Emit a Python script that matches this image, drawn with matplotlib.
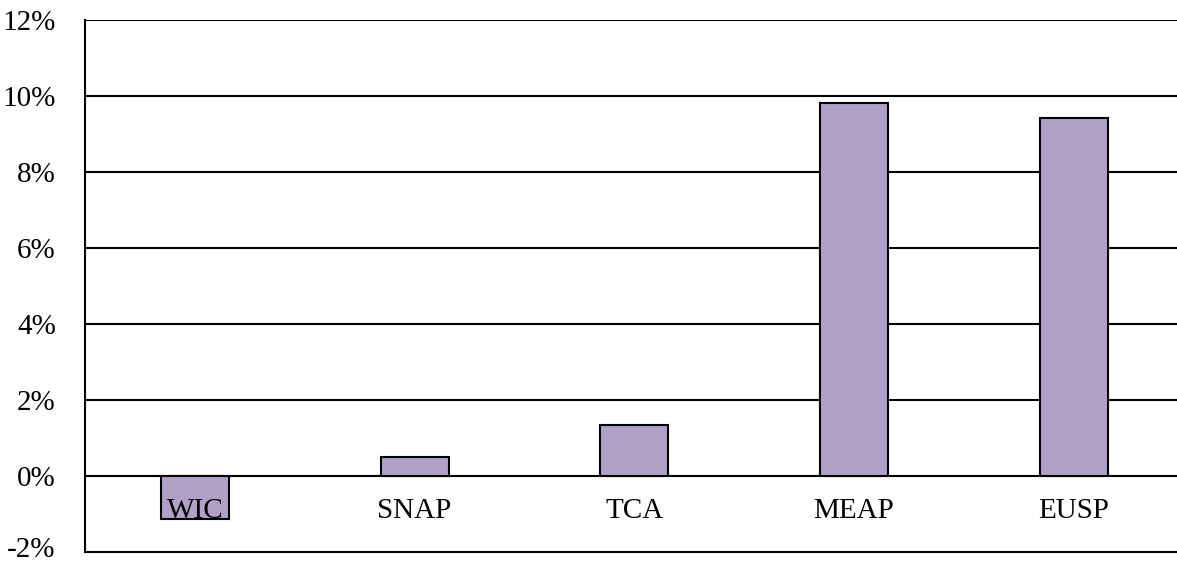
import matplotlib
matplotlib.use('Agg')
import matplotlib.pyplot as plt
import matplotlib.transforms as mtransforms
from matplotlib.ticker import FuncFormatter

plt.rcParams['font.family'] = ['Liberation Serif', 'DejaVu Serif']

# data
programs = ['WIC', 'SNAP', 'TCA', 'MEAP', 'EUSP']
values = [-1.12, 0.5, 1.33, 9.81, 9.42]
yticks = [-2, 0, 2, 4, 6, 8, 10, 12]

fig = plt.figure(figsize=(11.77, 5.65), dpi=100)
ax = fig.add_axes([85 / 1177, 1 - 552 / 565, 1 - 85 / 1177, (552 - 20) / 565])

x = range(len(programs))
ax.bar(x, values, width=0.31, color='#B1A0C7', edgecolor='black', linewidth=1.5, zorder=3)

ax.set_ylim(-2, 12)
ax.set_xlim(-0.5, 4.47)
ax.set_yticks(yticks)
ax.yaxis.set_major_formatter(FuncFormatter(lambda v, p: '%d%%' % v))
ax.tick_params(axis='y', length=0, pad=21, labelsize=21)
ax.set_xticks([])

for yv in yticks[1:]:
    ax.axhline(yv, color='black', linewidth=1.5, zorder=1)

ax.spines['right'].set_visible(False)
ax.spines['top'].set_visible(False)
ax.spines['left'].set_linewidth(1.5)
ax.spines['bottom'].set_linewidth(1.5)

# lift the bottom tick label a bit so it stays inside the figure
fig.canvas.draw()
lbl = ax.get_yticklabels()[0]
lbl.set_transform(lbl.get_transform() + mtransforms.ScaledTranslation(0, 5 / 100, fig.dpi_scale_trans))

# category labels sit just under the zero line, on top of the bars
for i, name in enumerate(programs):
    ax.annotate(name, xy=(i, 0), xytext=(0, -35), textcoords='offset pixels',
                ha='center', va='center', fontsize=21, zorder=5)

fig.savefig('out.png', dpi=100)
